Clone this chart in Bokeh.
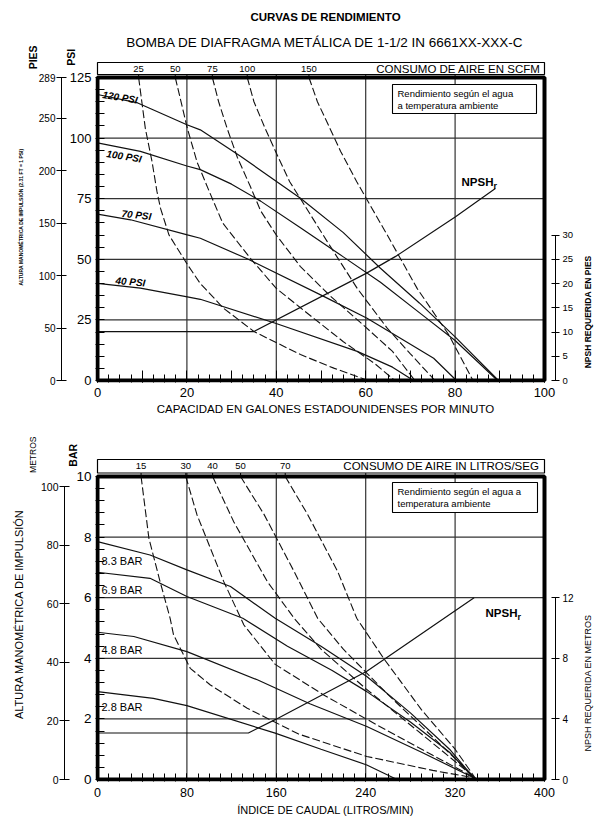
import math
from bokeh.plotting import figure
from bokeh.models import Range1d, LinearAxis, FixedTicker, Title
from bokeh.layouts import column
from bokeh.embed import file_html
from bokeh.resources import INLINE
from bokeh.core.properties import value

FONT = "Liberation Sans"
NB = "\u00a0"

# ---------------- TOP CHART DATA (US GPM vs PSI) ----------------
gpm_grid = [20, 40, 60, 80]
psi_ticks = [0, 25, 50, 75, 100, 125]
psi_grid = [25, 50, 75, 100]
ft_ticks = [0, 50, 100, 150, 200, 250, 289]
npsh_ft_ticks = [0, 5, 10, 15, 20, 25, 30]

psi_labels = ["120 PSI", "100 PSI", "70 PSI", "40 PSI"]
psi120_x = [0, 9, 20, 23, 32, 45.4, 55, 63.3, 72, 80, 89.7]
psi120_y = [118, 114.5, 105.5, 103.4, 92.5, 75.2, 61, 46.3, 32, 18, 0]
psi100_x = [0, 9.6, 20, 23, 30, 36.5, 45.4, 55, 63.3, 72, 80, 89.5]
psi100_y = [98, 94.5, 88.5, 87, 81, 74, 63, 51, 40.5, 28, 16.5, 0]
psi70_x = [0, 7.4, 20.1, 23, 33.5, 50.6, 60.3, 70, 75.2, 80.3]
psi70_y = [68.6, 66.3, 60.1, 58.7, 50.2, 34.7, 25.7, 15, 9.2, 0]
psi40_x = [0, 9.6, 20.1, 23, 39.8, 58.1, 66, 70.7]
psi40_y = [40.1, 38.1, 34.5, 33.5, 23.6, 12, 5.5, 0]

scfm_labels = ["25", "50", "75", "100", "150"]
scfm25_x = [9.2, 10.7, 12.2, 13.3, 14.1, 16, 20.1, 23, 28.2, 35, 45.4, 53, 60.5]
scfm25_y = [125, 104, 90.3, 78, 71, 60, 47.9, 40, 29.8, 20.2, 10.7, 5, 0]
scfm50_x = [17.4, 20.1, 22.3, 25, 28, 34.2, 40, 45.4, 55, 62, 66.5]
scfm50_y = [125, 104, 90, 78, 65, 50.4, 38, 30, 16, 7, 0]
scfm75_x = [25.7, 27.1, 29, 31.3, 34.2, 36.5, 40, 45.4, 52, 60, 66, 71]
scfm75_y = [125, 115, 104, 92, 80, 70, 60, 47, 35, 22, 12, 0]
scfm100_x = [33.5, 35, 37.5, 40.2, 43, 45.4, 51.4, 58.1, 64.8, 70, 75.5]
scfm100_y = [125, 115, 104, 93, 82, 75, 57.3, 38, 21.6, 11, 0]
scfm150_x = [47.3, 49.2, 52, 54.4, 58, 60.1, 64.8, 71.5, 78.6, 84]
scfm150_y = [125, 115, 104, 94.5, 82, 75.2, 60.1, 38, 18.8, 0]

npsh_ft_x = [0, 35, 60.1, 66.7, 80.1, 89]
npsh_ft_y = [10.1, 10.1, 22.1, 25.6, 33.8, 39.6]

# ---------------- BOTTOM CHART DATA (L/min vs BAR) ----------------
lpm_ticks = [0, 40, 80, 120, 160, 200, 240, 280, 320, 360, 400]
lpm_grid = [80, 160, 240, 320]
bar_ticks = [0, 2, 4, 6, 8, 10]
bar_grid = [2, 4, 6, 8]
m_ticks = [0, 20, 40, 60, 80, 100]
npsh_m_ticks = [0, 4, 8, 12]

bar_labels = ["8.3 BAR", "6.9 BAR", "4.8 BAR", "2.8 BAR"]
bar83_x = [0, 47, 80, 119, 159, 200, 241, 280, 315, 338]
bar83_y = [7.85, 7.41, 6.92, 6.37, 5.32, 4.4, 3.4, 2.2, 1.0, 0]
bar69_x = [0, 47, 80, 130, 170, 210, 241, 280, 315, 338]
bar69_y = [6.84, 6.64, 6.04, 5.32, 4.4, 3.6, 2.9, 1.9, 0.9, 0]
bar48_x = [0, 32.5, 80, 143, 190, 241, 290, 337]
bar48_y = [4.86, 4.72, 4.22, 3.29, 2.5, 1.75, 0.9, 0.05]
bar28_x = [0, 50, 80, 159, 200, 241, 268]
bar28_y = [2.9, 2.68, 2.44, 1.53, 1.0, 0.48, 0]

lps_labels = ["15", "30", "40", "50", "70"]
lps15_x = [39, 46, 56, 65, 68, 83, 101, 134, 180, 241, 300, 338]
lps15_y = [10, 7.96, 6.53, 5.32, 4.78, 3.67, 3.12, 2.35, 1.5, 0.76, 0.3, 0.05]
lps30_x = [79, 89, 113, 131, 159, 202, 250, 300, 338]
lps30_y = [10, 8.74, 6.53, 5.1, 3.8, 2.8, 1.8, 0.8, 0.05]
lps40_x = [103, 122, 152, 176, 200, 240, 290, 338]
lps40_y = [10, 8.5, 6.53, 5.32, 4.3, 3.0, 1.5, 0.05]
lps50_x = [128, 149, 176, 197, 220, 260, 300, 338]
lps50_y = [10, 8.75, 6.86, 5.32, 4.3, 2.8, 1.4, 0.05]
lps70_x = [168, 188, 215, 232, 256, 290, 320, 338]
lps70_y = [10, 8.75, 6.86, 5.32, 4.0, 2.3, 1.0, 0.05]

npsh_m_x = [0, 135, 159, 241, 337]
npsh_m_y = [3.07, 3.07, 3.95, 7.15, 12]

# ---------------- layout (page pixels) ----------------
T_X0, T_XS, T_Y0, T_YS = 97.0, 4.47, 379.0, 2.424
B_X0, B_XS, B_Y0, B_YS = 97.0, 1.1175, 778.0, 30.3
FT_PER_PSI = 2.312
NPSH_FT_PER_PSI = 0.5
M_PER_BAR = 10.35
NPSH_M_PER_BAR = 2.0

CANVAS_X = 0
CANVAS_Y1 = 0
MB_LEFT = 95
MB_RIGHT = 40
FRAME_W = 460
F1_TOP, F1_BOT, H1 = 50, 381, 420
F2_TOP, F2_BOT, H2 = 445, 780, 400
FRAME_L = CANVAS_X + MB_LEFT


def tx(px):
    return (px - T_X0) / T_XS


def ty(py):
    return (T_Y0 - py) / T_YS


def bx(px):
    return (px - B_X0) / B_XS


def by(py):
    return (B_Y0 - py) / B_YS


LINE = "#111111"
GRID = "#333333"


def try_set(obj, **kw):
    for k, v in kw.items():
        try:
            setattr(obj, k, v)
        except Exception:
            pass


def base_fig(xr, yr, top, frame_h, bottom):
    p = figure(frame_width=FRAME_W, frame_height=frame_h, output_backend="svg",
               toolbar_location=None, x_range=xr, y_range=yr,
               min_border_left=MB_LEFT, min_border_right=MB_RIGHT,
               min_border_top=top, min_border_bottom=bottom)
    p.outline_line_color = None
    p.grid.visible = False
    p.background_fill_color = "white"
    return p


def style_axis(ax, size):
    ax.major_label_text_font = FONT
    ax.major_label_text_font_size = size
    ax.major_label_text_color = "black"
    ax.major_tick_line_color = "black"
    ax.minor_tick_line_color = "black"
    ax.axis_label_text_font = FONT
    ax.axis_label_text_color = "black"
    ax.axis_label_text_font_style = "normal"


def label_axis(y_range_name, text, size, style, standoff):
    a = LinearAxis(y_range_name=y_range_name)
    a.ticker = FixedTicker(ticks=[], minor_ticks=[])
    a.axis_line_color = None
    a.major_tick_out = a.major_tick_in = a.minor_tick_out = a.minor_tick_in = 0
    a.major_label_standoff = 0
    a.axis_label = text
    a.axis_label_text_font = FONT
    a.axis_label_text_font_size = size
    a.axis_label_text_font_style = style
    a.axis_label_text_color = "black"
    a.axis_label_standoff = standoff
    return a


# =============================== TOP FIGURE ===============================
x_lo = (FRAME_L - T_X0) / T_XS
y_lo = (T_Y0 - F1_BOT) / T_YS
y_hi = (T_Y0 - F1_TOP) / T_YS
p1 = base_fig(Range1d(x_lo, x_lo + FRAME_W / T_XS), Range1d(y_lo, y_hi),
              F1_TOP - CANVAS_Y1, F1_BOT - F1_TOP, H1 - (F1_BOT - CANVAS_Y1))
p1.extra_y_ranges = {
    "ft": Range1d(y_lo * FT_PER_PSI, y_hi * FT_PER_PSI),
    "npsh": Range1d(y_lo * NPSH_FT_PER_PSI, y_hi * NPSH_FT_PER_PSI),
}

t_sub = Title(text="BOMBA DE DIAFRAGMA METÁLICA DE 1-1/2 IN 6661XX-XXX-C", align="center",
              text_font=FONT, text_font_size="13.5px", text_font_style="normal",
              text_color="black", standoff=3, offset=-5)
p1.add_layout(t_sub, "above")
t_main = Title(text="CURVAS DE RENDIMIENTO", align="center", text_font=FONT,
               text_font_size="11.5px", text_font_style="bold", text_color="black",
               standoff=17, offset=-5)
p1.add_layout(t_main, "above")

xa = p1.xaxis[0]
style_axis(xa, "13px")
xa.ticker = FixedTicker(ticks=[10 * i for i in range(11)], minor_ticks=[2.5 * i for i in range(41)])
xa.major_label_overrides = {t: "" for t in [10, 30, 50, 70, 90]}
xa.bounds = (0, 100)
xa.axis_line_color = None
xa.major_tick_in, xa.major_tick_out = 12, 0
xa.minor_tick_in, xa.minor_tick_out = 8, 0
xa.major_label_standoff = 5
xa.axis_label = "CAPACIDAD EN GALONES ESTADOUNIDENSES POR MINUTO"
xa.axis_label_text_font_size = "11.5px"
xa.axis_label_standoff = 3

ya = p1.yaxis[0]
style_axis(ya, "13px")
ya.ticker = FixedTicker(ticks=psi_ticks, minor_ticks=[5 * i for i in range(26)])
ya.bounds = (0, 125)
ya.axis_line_color = None
ya.major_tick_in, ya.major_tick_out = 0, 0
ya.minor_tick_in, ya.minor_tick_out = 9, 0
ya.major_label_standoff = 4
ya.axis_label = "PSI" + NB * 4
ya.axis_label_text_font_size = "10.5px"
ya.axis_label_text_font_style = "bold"
ya.axis_label_standoff = 0
try_set(ya, axis_label_standoff=-10)
try_set(ya, axis_label_align="end")

fa = LinearAxis(y_range_name="ft")
style_axis(fa, "10px")
fa.ticker = FixedTicker(ticks=ft_ticks, minor_ticks=[])
fa.bounds = (0, 289)
fa.axis_line_color = "black"
fa.major_tick_in, fa.major_tick_out = 5, 5
fa.major_label_standoff = 1
fa.axis_label = "PIES" + NB * 4
fa.axis_label_text_font_size = "10.5px"
fa.axis_label_text_font_style = "bold"
fa.axis_label_standoff = 0
try_set(fa, axis_label_standoff=-3)
try_set(fa, axis_label_align="end")
p1.add_layout(fa, "left")

p1.add_layout(label_axis("ft", "ALTURA MANOMÉTRICA DE IMPULSIÓN (2.31 FT = 1 PSI)", "5px", "bold", 0), "left")

na = LinearAxis(y_range_name="npsh")
style_axis(na, "9.5px")
na.ticker = FixedTicker(ticks=npsh_ft_ticks, minor_ticks=[])
na.bounds = (0, 30)
na.axis_line_color = "black"
na.major_tick_in, na.major_tick_out = 4, 4
na.major_label_standoff = 3
na.axis_label = NB * 6 + "NPSH REQUERIDA EN PIES"
na.axis_label_text_font_size = "8.5px"
na.axis_label_text_font_style = "bold"
na.axis_label_standoff = 12
try_set(na, axis_label_align="start")
try_set(na, axis_label_orientation=math.pi / 2)
p1.add_layout(na, "right")

BOX1_BOT, BOX1_TOP = ty(73), ty(61)

p1.segment(x0=[0] * len(psi_grid), x1=[100] * len(psi_grid), y0=psi_grid, y1=psi_grid,
           line_color=GRID, line_width=1.2)
p1.segment(x0=gpm_grid, x1=gpm_grid, y0=[0] * len(gpm_grid), y1=[BOX1_BOT] * len(gpm_grid),
           line_color=GRID, line_width=1.2)

scfm_x = [scfm25_x, scfm50_x, scfm75_x, scfm100_x, scfm150_x]
scfm_y = [scfm25_y, scfm50_y, scfm75_y, scfm100_y, scfm150_y]
for xs, ys in zip(scfm_x, scfm_y):
    p1.line(xs, ys, line_color=LINE, line_width=1.1, line_dash="8 3")
tops1 = [xs[0] for xs in scfm_x]
p1.segment(x0=tops1, x1=tops1, y0=[125] * 5, y1=[BOX1_BOT] * 5, line_color=LINE, line_width=1.1)

for xs, ys in [(psi120_x, psi120_y), (psi100_x, psi100_y), (psi70_x, psi70_y), (psi40_x, psi40_y)]:
    p1.line(xs, ys, line_color=LINE, line_width=1.2)

p1.line(npsh_ft_x, npsh_ft_y, y_range_name="npsh", line_color=LINE, line_width=1.2)

p1.quad(left=[0], right=[100], bottom=[0], top=[125], fill_color=None, line_color="black", line_width=4)

p1.quad(left=[0], right=[100], bottom=[BOX1_BOT], top=[BOX1_TOP], fill_color="white",
        line_color="black", line_width=1.2)
p1.text(x=tops1, y=[(BOX1_BOT + BOX1_TOP) / 2] * 5, text=scfm_labels, text_font=value(FONT),
        text_font_size="9.5px", text_align="center", text_baseline="middle", text_color="black")
p1.text(x=[tx(540)], y=[(BOX1_BOT + BOX1_TOP) / 2], text=["CONSUMO DE AIRE EN SCFM"],
        text_font=value(FONT), text_font_size="11.5px", text_align="right",
        text_baseline="middle", text_color="black")

p1.text(x=[tx(102), tx(106), tx(121), tx(115)], y=[ty(93), ty(152), ty(212), ty(279)],
        text=psi_labels, angle=[-0.16, -0.16, -0.1, -0.08], text_font=value(FONT),
        text_font_size="10px", text_font_style="bold italic", text_align="left",
        text_baseline="middle", text_color="black")

p1.quad(left=[tx(392)], right=[tx(536)], bottom=[ty(112)], top=[ty(83)], fill_color="white",
        line_color="black", line_width=1.1)
p1.text(x=[tx(397), tx(397)], y=[ty(92), ty(104)],
        text=["Rendimiento según el agua", "a temperatura ambiente"], text_font=value(FONT),
        text_font_size="9.5px", text_align="left", text_baseline="middle", text_color="black")

p1.text(x=[tx(493)], y=[ty(180)], text=["NPSH"], text_font=value(FONT), text_font_size="11.5px",
        text_font_style="bold", text_align="right", text_baseline="middle", text_color="black")
p1.text(x=[tx(493)], y=[ty(184)], text=["r"], text_font=value(FONT), text_font_size="9px",
        text_font_style="bold", text_align="left", text_baseline="middle", text_color="black")

# =============================== BOTTOM FIGURE ===============================
CANVAS_Y2 = CANVAS_Y1 + H1
x2_lo = (FRAME_L - B_X0) / B_XS
y2_lo = (B_Y0 - F2_BOT) / B_YS
y2_hi = (B_Y0 - F2_TOP) / B_YS
p2 = base_fig(Range1d(x2_lo, x2_lo + FRAME_W / B_XS), Range1d(y2_lo, y2_hi),
              F2_TOP - CANVAS_Y2, F2_BOT - F2_TOP, H2 - (F2_BOT - CANVAS_Y2))
p2.extra_y_ranges = {
    "m": Range1d(y2_lo * M_PER_BAR, y2_hi * M_PER_BAR),
    "npsh": Range1d(y2_lo * NPSH_M_PER_BAR, y2_hi * NPSH_M_PER_BAR),
}

xb = p2.xaxis[0]
style_axis(xb, "12.5px")
xb.ticker = FixedTicker(ticks=lpm_ticks, minor_ticks=[10 * i for i in range(41)])
xb.major_label_overrides = {t: "" for t in [40, 120, 200, 280, 360]}
xb.bounds = (0, 400)
xb.axis_line_color = None
xb.major_tick_in, xb.major_tick_out = 8, 0
xb.minor_tick_in, xb.minor_tick_out = 8, 0
xb.major_label_standoff = 6
xb.axis_label = "ÍNDICE DE CAUDAL (LITROS/MIN)"
xb.axis_label_text_font_size = "11px"
xb.axis_label_standoff = 4

yb = p2.yaxis[0]
style_axis(yb, "13.5px")
yb.ticker = FixedTicker(ticks=bar_ticks, minor_ticks=[0.4 * i for i in range(26)])
yb.bounds = (0, 10)
yb.axis_line_color = None
yb.major_tick_in, yb.major_tick_out = 0, 0
yb.minor_tick_in, yb.minor_tick_out = 9, 0
yb.major_label_standoff = 4
yb.axis_label = "BAR" + NB * 6
yb.axis_label_text_font_size = "10.5px"
yb.axis_label_text_font_style = "bold"
yb.axis_label_standoff = 0
try_set(yb, axis_label_standoff=-6)
try_set(yb, axis_label_align="end")

ma = LinearAxis(y_range_name="m")
style_axis(ma, "10.5px")
ma.ticker = FixedTicker(ticks=m_ticks, minor_ticks=[])
ma.bounds = (0, 100)
ma.axis_line_color = "black"
ma.major_tick_in, ma.major_tick_out = 5, 5
ma.major_label_standoff = 1
ma.axis_label = "METROS" + NB * 7
ma.axis_label_text_font_size = "8.5px"
ma.axis_label_standoff = 0
try_set(ma, axis_label_align="end")
p2.add_layout(ma, "left")

p2.add_layout(label_axis("m", "ALTURA MANOMÉTRICA DE IMPULSIÓN", "11px", "normal", 0), "left")

nb = LinearAxis(y_range_name="npsh")
style_axis(nb, "10px")
nb.ticker = FixedTicker(ticks=npsh_m_ticks, minor_ticks=[])
nb.bounds = (0, 12)
nb.axis_line_color = "black"
nb.major_tick_in, nb.major_tick_out = 4, 4
nb.major_label_standoff = 3
nb.axis_label = NB * 12 + "NPSH REQUERIDA EN METROS"
nb.axis_label_text_font_size = "9px"
nb.axis_label_standoff = 11
try_set(nb, axis_label_align="start")
try_set(nb, axis_label_orientation=math.pi / 2)
p2.add_layout(nb, "right")

BOX2_BOT, BOX2_TOP = by(471.5), by(458)

p2.segment(x0=[0] * len(bar_grid), x1=[400] * len(bar_grid), y0=bar_grid, y1=bar_grid,
           line_color=GRID, line_width=1.2)
p2.segment(x0=lpm_grid, x1=lpm_grid, y0=[0] * len(lpm_grid), y1=[BOX2_BOT] * len(lpm_grid),
           line_color=GRID, line_width=1.2)

lps_x = [lps15_x, lps30_x, lps40_x, lps50_x, lps70_x]
lps_y = [lps15_y, lps30_y, lps40_y, lps50_y, lps70_y]
for xs, ys in zip(lps_x, lps_y):
    p2.line(xs, ys, line_color=LINE, line_width=1.1, line_dash="8 3")
tops2 = [xs[0] for xs in lps_x]
p2.segment(x0=tops2, x1=tops2, y0=[10] * 5, y1=[BOX2_BOT] * 5, line_color=LINE, line_width=1.1)

for xs, ys in [(bar83_x, bar83_y), (bar69_x, bar69_y), (bar48_x, bar48_y), (bar28_x, bar28_y)]:
    p2.line(xs, ys, line_color=LINE, line_width=1.2)

p2.line(npsh_m_x, npsh_m_y, y_range_name="npsh", line_color=LINE, line_width=1.2)

p2.quad(left=[0], right=[400], bottom=[0], top=[10], fill_color=None, line_color="black", line_width=4)

p2.quad(left=[0], right=[400], bottom=[BOX2_BOT], top=[BOX2_TOP], fill_color="white",
        line_color="black", line_width=1.2)
p2.text(x=tops2, y=[(BOX2_BOT + BOX2_TOP) / 2] * 5, text=lps_labels, text_font=value(FONT),
        text_font_size="9.5px", text_align="center", text_baseline="middle", text_color="black")
p2.text(x=[bx(539)], y=[(BOX2_BOT + BOX2_TOP) / 2], text=["CONSUMO DE AIRE IN LITROS/SEG"],
        text_font=value(FONT), text_font_size="11.5px", text_align="right",
        text_baseline="middle", text_color="black")

p2.text(x=[bx(101)] * 4, y=[by(559), by(588), by(648), by(705)], text=bar_labels,
        text_font=value(FONT), text_font_size="11px", text_align="left",
        text_baseline="middle", text_color="black")

p2.quad(left=[bx(392)], right=[bx(537)], bottom=[by(511)], top=[by(481)], fill_color="white",
        line_color="black", line_width=1.1)
p2.text(x=[bx(397), bx(397)], y=[by(490), by(502)],
        text=["Rendimiento según el agua a", "temperatura ambiente"], text_font=value(FONT),
        text_font_size="9.5px", text_align="left", text_baseline="middle", text_color="black")

p2.text(x=[bx(517)], y=[by(611)], text=["NPSH"], text_font=value(FONT), text_font_size="11.5px",
        text_font_style="bold", text_align="right", text_baseline="middle", text_color="black")
p2.text(x=[bx(517)], y=[by(615)], text=["r"], text_font=value(FONT), text_font_size="9px",
        text_font_style="bold", text_align="left", text_baseline="middle", text_color="black")

layout = column(p1, p2, spacing=0)
open("out.html", "w").write(file_html(layout, INLINE))
